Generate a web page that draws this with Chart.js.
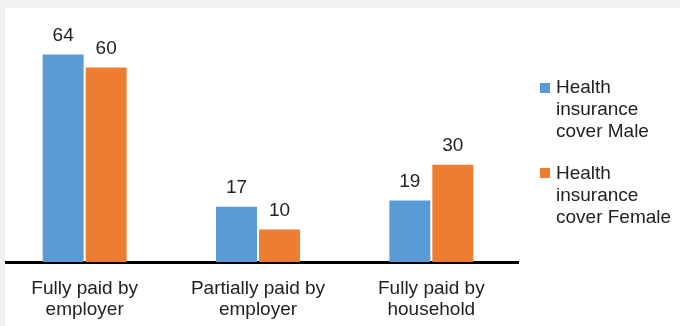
<!DOCTYPE html>
<html>
<head>
<meta charset="utf-8">
<script src="https://cdn.jsdelivr.net/npm/chart.js@4/dist/chart.umd.min.js"></script>
<style>
  html, body { margin: 0; padding: 0; }
  body { width: 680px; height: 326px; background: #f1f1f1; position: relative; overflow: hidden;
         font-family: "Liberation Sans", Arial, sans-serif; }
  #panel { position: absolute; left: 5px; top: 8px; width: 675px; height: 318px; background: #fff; overflow: hidden; }
  #wrap { position: absolute; left: -7px; top: -8px; width: 682px; height: 326px; }
  .leg { position: absolute; left: 556px; font-size: 19px; line-height: 22px; color: #222; white-space: nowrap; }
  .sw { position: absolute; left: 540px; width: 10px; height: 10px; }
</style>
</head>
<body>
<div id="panel">
  <div id="wrap"><canvas id="bar-chart" width="682" height="326"></canvas></div>
</div>
<div class="sw" style="top:83px;background:#5B9BD5"></div>
<div class="leg" style="top:76px">Health<br>insurance<br>cover Male</div>
<div class="sw" style="top:168px;background:#ED7D31"></div>
<div class="leg" style="top:162px">Health<br>insurance<br>cover Female</div>
<script>
var categories = [["Fully paid by", "employer"], ["Partially paid by", "employer"], ["Fully paid by", "household"]];
var maleValues = [64, 17, 19];
var femaleValues = [60, 10, 30];
var seriesNames = ["Health insurance cover Male", "Health insurance cover Female"];

// value labels above each bar
var barLabels = {
  id: 'barLabels',
  afterDatasetsDraw(chart) {
    var ctx = chart.ctx;
    ctx.save();
    ctx.font = '19px "Liberation Sans", Arial, sans-serif';
    ctx.fillStyle = '#222';
    ctx.textAlign = 'center';
    ctx.textBaseline = 'alphabetic';
    chart.data.datasets.forEach(function(ds, i) {
      chart.getDatasetMeta(i).data.forEach(function(bar, j) {
        ctx.fillText(ds.data[j], bar.x, bar.y - 13.5);
      });
    });
    ctx.restore();
  }
};

new Chart(document.getElementById("bar-chart"), {
  type: 'bar',
  data: {
    labels: categories,
    datasets: [
      { label: seriesNames[0], backgroundColor: "#5B9BD5", data: maleValues },
      { label: seriesNames[1], backgroundColor: "#ED7D31", data: femaleValues }
    ]
  },
  options: {
    responsive: false,
    animation: false,
    events: [],
    layout: { padding: { left: 0, right: 162, top: 35, bottom: 0 } },
    datasets: { bar: { barPercentage: 0.953, categoryPercentage: 0.496 } },
    plugins: { legend: { display: false }, tooltip: { enabled: false } },
    scales: {
      x: {
        grid: { display: false, drawTicks: false },
        border: { display: true, color: '#000', width: 3 },
        ticks: {
          color: '#222',
          padding: 16,
          font: { family: '"Liberation Sans", Arial, sans-serif', size: 19, lineHeight: 1.13 }
        },
        afterFit: function(s) { s.height = 64; }
      },
      y: { display: false, min: 0, max: 70 }
    }
  },
  plugins: [barLabels]
});
</script>
</body>
</html>
